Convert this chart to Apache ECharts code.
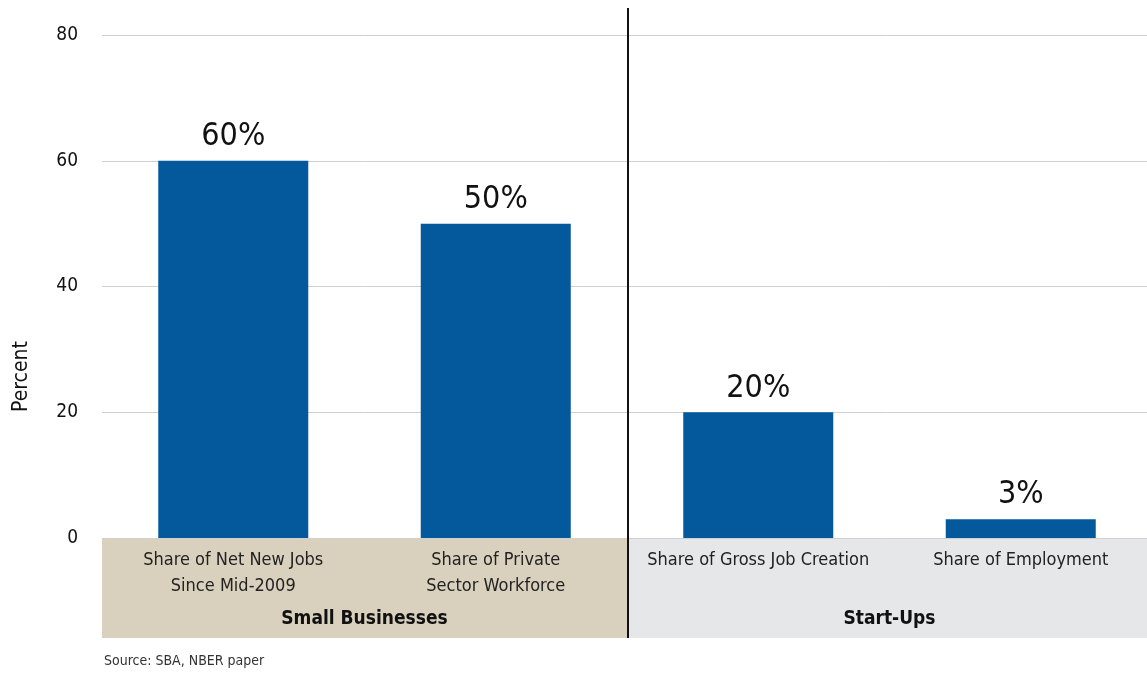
<!DOCTYPE html>
<html>
<head>
<meta charset="utf-8">
<script src="https://cdn.jsdelivr.net/npm/echarts@6/dist/echarts.min.js"></script>
<style>
  html, body { margin: 0; padding: 0; background: #fff; }
  #chart { width: 1147px; height: 677px; }
</style>
</head>
<body>
<div id="chart"></div>
<script>
// data
const categories = [
  'Share of Net New Jobs\nSince Mid-2009',
  'Share of Private\nSector Workforce',
  'Share of Gross Job Creation',
  'Share of Employment'
];
const values = [60, 50, 20, 3];
const groups = ['Small Businesses', 'Start-Ups'];
const groupSizes = [2, 2];
const groupColors = ['#d9d1bd', '#e6e7e9'];

const FONT = '"Liberation Sans Narrow", "DejaVu Sans Condensed", "Noto Sans", sans-serif';

const chart = echarts.init(document.getElementById('chart'));

chart.setOption({
  animation: false,
  textStyle: { fontFamily: FONT },
  grid: { left: 102, right: -5, top: 35, bottom: 139, outerBoundsMode: 'none', containLabel: false },
  xAxis: {
    type: 'category',
    data: categories,
    axisLine: { show: false },
    axisTick: { show: false },
    axisLabel: {
      interval: 0,
      margin: 9,
      fontFamily: FONT,
      fontSize: 18,
      lineHeight: 26,
      color: '#222'
    },
    z: 10
  },
  yAxis: {
    type: 'value',
    min: 0,
    max: 80,
    interval: 20,
    name: 'Percent',
    nameLocation: 'middle',
    nameRotate: 90,
    nameGap: 70,
    nameTextStyle: { fontFamily: FONT, fontSize: 21, color: '#111', padding: [0, 180, 0, 0] },
    axisLine: { show: false },
    axisTick: { show: false },
    axisLabel: { fontFamily: FONT, fontSize: 19, color: '#111', margin: 24 },
    splitLine: { lineStyle: { color: '#d0d0d0', width: 1 } }
  },
  series: [{
    type: 'bar',
    data: values,
    barWidth: 150,
    itemStyle: { color: '#03599c' },
    label: {
      show: true,
      position: 'top',
      distance: 8,
      formatter: '{c}%',
      fontFamily: FONT,
      fontSize: 32,
      color: '#111'
    }
  }]
});

function drawBands() {
  const c0 = chart.convertToPixel({ xAxisIndex: 0 }, 0);
  const c1 = chart.convertToPixel({ xAxisIndex: 0 }, 1);
  const step = c1 - c0;
  const y0 = chart.convertToPixel({ yAxisIndex: 0 }, 0);
  const bandH = 100;
  const elements = [];
  let start = 0;
  groups.forEach(function (g, i) {
    const left = c0 - step / 2 + start * step;
    const w = groupSizes[i] * step;
    elements.push({
      type: 'rect',
      z: -10,
      shape: { x: left, y: y0, width: w, height: bandH },
      style: { fill: groupColors[i] }
    });
    elements.push({
      type: 'text',
      z: 10,
      x: left + w / 2,
      y: y0 + 81,
      style: {
        text: g,
        fontFamily: FONT,
        fontSize: 19,
        fontWeight: 'bold',
        fill: '#111',
        align: 'center',
        verticalAlign: 'middle'
      }
    });
    start += groupSizes[i];
    if (i < groups.length - 1) {
      const xl = left + w + 1;
      elements.push({
        type: 'line',
        z: 20,
        shape: { x1: xl, y1: 8, x2: xl, y2: y0 + bandH },
        style: { stroke: '#111', lineWidth: 2 }
      });
    }
  });
  elements.push({
    type: 'text',
    left: 104,
    top: 654,
    style: { text: 'Source: SBA, NBER paper', fontFamily: FONT, fontSize: 14, fill: '#333' }
  });
  chart.setOption({ graphic: { elements: elements } });
}
drawBands();

window.addEventListener('resize', function () {
  chart.resize();
  drawBands();
});
</script>
</body>
</html>
